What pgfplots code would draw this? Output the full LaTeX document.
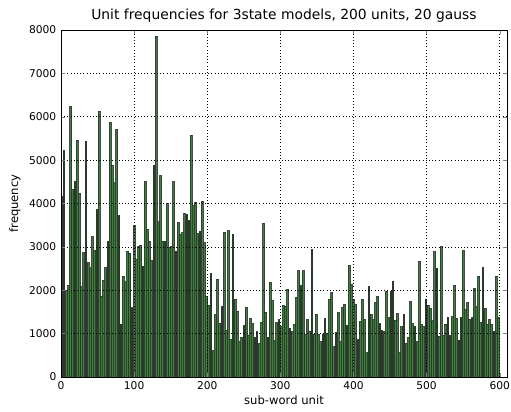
\documentclass[border=0pt]{standalone}
\usepackage{pgfplots}
\usepackage{pgfplotstable}
\usepackage{fontspec}
\setmainfont{DejaVu Sans}
\pgfplotsset{compat=1.18}

% Frequency of each of the 600 HMM states (200 units x 3 states), one bar per unit
\pgfplotstableread{
freq
4150
5214
1989
2120
6244
4330
4516
5460
4240
2081
2864
5437
2633
2518
3232
2919
3863
6129
1866
2235
2518
3133
5875
4885
4480
5714
3725
1221
2327
2196
2896
2850
1597
3495
2712
3002
3041
2557
4500
3403
3117
2696
4885
7857
3578
4638
3133
3133
4002
2988
3018
4500
2900
3564
3295
3325
3771
3740
3600
5575
3963
4025
3300
3364
4055
3094
1850
1659
2389
606
1444
2258
1237
1620
3334
1083
3371
876
3295
1797
1521
813
906
1191
1606
968
1359
1237
914
1044
776
1267
3541
1498
914
2189
1758
836
1252
1329
1159
1643
1636
2021
1129
1044
1221
1836
2449
2113
2449
991
1329
1060
2942
991
1451
991
813
991
1352
1007
1797
1951
698
1021
1490
822
1606
1675
1198
2580
2143
1790
1675
868
1274
1797
1329
560
2097
1444
1329
1721
1866
1237
1083
1044
1981
1367
1981
2212
1313
1467
560
1159
1444
776
914
1735
1237
1175
813
2673
1214
1159
1797
1659
1582
1297
2887
2504
945
3002
968
1221
1375
968
1390
2120
1352
852
1367
2910
1567
1721
1329
1367
2044
1620
2327
1252
2527
1582
1214
1329
1221
1060
2327
1375
}\freqtable

\definecolor{barfill}{RGB}{58,132,58}
\definecolor{baredge}{RGB}{40,46,40}

\begin{document}
\begin{tikzpicture}
\useasboundingbox (0,0) rectangle (383.25pt,308.25pt);
\begin{axis}[
  at={(45.75pt,25.5pt)}, anchor=south west,
  scale only axis,
  width=334.5pt, height=260.25pt,
  xmin=0, xmax=610, ymin=0, ymax=8000,
  xtick={0,100,...,600},
  ytick={0,1000,...,8000},
  scaled ticks=false,
  /pgf/number format/1000 sep={},
  /pgf/number format/assume math mode=true,
  tick label style={font=\fontsize{8}{9.6}\selectfont},
  tick align=inside,
  major tick length=3pt,
  xtick pos=both, ytick pos=both,
  axis line style={black, line width=0.7pt},
  grid=major,
  major grid style={black, line width=0.5pt, dash pattern=on 0.8pt off 1.6pt},
  axis on top,
  title={Unit frequencies for 3state models, 200 units, 20 gauss},
  title style={font=\fontsize{10.4}{12.5}\selectfont, at={(axis description cs:0.5,1.018)}, anchor=center},
  xlabel={sub-word unit},
  xlabel style={font=\fontsize{8.7}{10.4}\selectfont, at={(axis description cs:0.5,-0.0663)}, anchor=center},
  ylabel={frequency},
  ylabel style={font=\fontsize{8.7}{10.4}\selectfont, at={(axis description cs:-0.1031,0.5)}, anchor=center},
]
\addplot[ybar, bar width=2.4, fill=barfill, draw=baredge, draw opacity=0.85, line width=0.75pt]
  table[x expr=3*\coordindex+1.2, y=freq] {\freqtable};
\end{axis}
\end{tikzpicture}
\end{document}
